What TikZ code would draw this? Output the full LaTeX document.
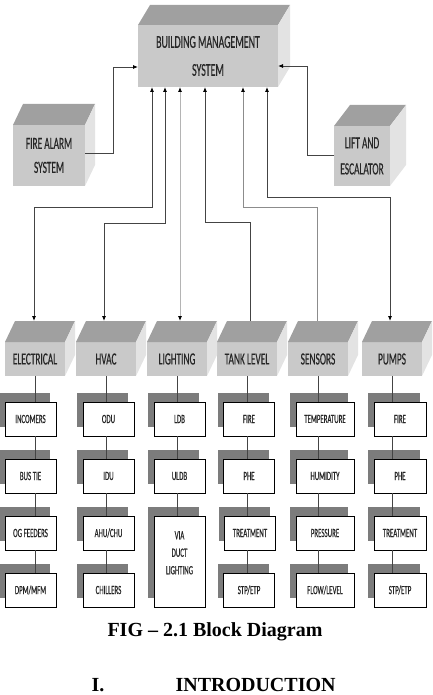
\documentclass[tikz,border=0pt]{standalone}
\usepackage{fontspec}
\setmainfont{Liberation Serif}
\newfontfamily\cf[FakeStretch=0.55,FakeBold=0.4]{Carlito}
\usetikzlibrary{arrows.meta,calc,shadows}

\definecolor{frontc}{HTML}{C9C9C9}
\definecolor{topc}{HTML}{A0A0A0}
\definecolor{sidec}{HTML}{E3E3E3}
\definecolor{shadowc}{HTML}{7C7C7C}
\definecolor{txtc}{HTML}{262626}
\definecolor{wire}{HTML}{444444}
\definecolor{wirelight}{HTML}{B4B4B4}
\definecolor{wiremid}{HTML}{8C8C8C}

% top and right faces of a block whose front face is node #1, depth (#2,#3)
\newcommand{\cubefaces}[3]{%
  \fill[topc] (#1.north west) -- ++(#2,-#3) -- ($(#1.north east)+(#2,-#3)$) -- (#1.north east) -- cycle;
  \fill[sidec] (#1.north east) -- ++(#2,-#3) -- ($(#1.south east)+(#2,-#3)$) -- (#1.south east) -- cycle;
}

\tikzset{
  cube/.style={fill=frontc, inner sep=0pt, outer sep=0pt, text=txtc, align=center},
  catbox/.style={cube, minimum width=60pt, minimum height=34pt, font=\cf\fontsize{17}{20}\selectfont},
  subbox/.style={draw=black, line width=0.7pt, fill=white, minimum width=51pt, minimum height=34pt,
    inner sep=0pt, outer sep=0pt, text=txtc, align=center, font=\cf\fontsize{12.5}{17.5}\selectfont,
    copy shadow={shadow xshift=-6pt, shadow yshift=9pt, fill=shadowc, draw=none}},
  tiphead/.tip={Latex[length=5pt,width=4pt,color=black]},
  link/.style={draw=wire, line width=0.8pt},
  linkup/.style={link, tiphead-},
  linkin/.style={link, -tiphead},
  linkboth/.style={link, tiphead-tiphead},
  stem/.style={draw=wire, line width=0.7pt},
}

\begin{document}
\begin{tikzpicture}[x=1pt,y=-1pt]
\useasboundingbox (0,0) rectangle (433,695);

% main and side blocks
\node[cube, minimum width=140pt, minimum height=62pt, font=\cf\fontsize{18}{28}\selectfont] (bms) at (208,56) {BUILDING MANAGEMENT\\SYSTEM};
\node[cube, minimum width=72pt, minimum height=61pt, font=\cf\fontsize{17}{24}\selectfont] (fire) at (49,155.5) {FIRE ALARM\\SYSTEM};
\node[cube, minimum width=56pt, minimum height=60pt, font=\cf\fontsize{17}{26}\selectfont] (lift) at (362,156) {LIFT AND\\ESCALATOR};
\cubefaces{bms}{12}{20}
\cubefaces{fire}{10}{21}
\cubefaces{lift}{16}{21}

% category blocks
\node[catbox] (elec)  at (35,359)  {ELECTRICAL};
\node[catbox] (hvac)  at (106,359) {HVAC};
\node[catbox] (light) at (177,359) {LIGHTING};
\node[catbox] (tank)  at (247,359) {TANK LEVEL};
\node[catbox] (sens)  at (318,359) {SENSORS};
\node[catbox] (pump)  at (392,359) {PUMPS};
\foreach \n in {elec,hvac,light,tank,sens,pump} {\cubefaces{\n}{10}{21}}

% sub-system boxes
\node[subbox] (e1) at (30.5,419) {INCOMERS};
\node[subbox] (e2) at (30.5,476) {BUS TIE};
\node[subbox] (e3) at (30.5,533) {OG FEEDERS};
\node[subbox] (e4) at (30.5,590) {DPM/MFM};

\node[subbox] (h1) at (108.5,419) {ODU};
\node[subbox] (h2) at (108.5,476) {IDU};
\node[subbox] (h3) at (108.5,533) {AHU/CHU};
\node[subbox] (h4) at (108.5,590) {CHILLERS};

\node[subbox] (l1) at (179.5,419) {LDB};
\node[subbox] (l2) at (179.5,476) {ULDB};
\node[subbox, minimum height=91pt] (l3) at (179.5,561.5) {VIA\\DUCT\\LIGHTING\\~};

\node[subbox] (t1) at (249,419) {FIRE};
\node[subbox] (t2) at (249,476) {PHE};
\node[subbox] (t3) at (250,533) {TREATMENT};
\node[subbox] (t4) at (249,590) {STP/ETP};

\node[subbox, minimum width=58pt] (s1) at (325,419) {TEMPERATURE};
\node[subbox, minimum width=58pt] (s2) at (325,476) {HUMIDITY};
\node[subbox, minimum width=58pt] (s3) at (325,533) {PRESSURE};
\node[subbox, minimum width=58pt] (s4) at (325,590) {FLOW/LEVEL};

\node[subbox, minimum width=52pt] (p1) at (400,419) {FIRE};
\node[subbox, minimum width=52pt] (p2) at (400,476) {PHE};
\node[subbox, minimum width=52pt] (p3) at (400,533) {TREATMENT};
\node[subbox, minimum width=52pt] (p4) at (400,590) {STP/ETP};

% stems from each category down through its boxes
\foreach \c/\a/\b/\d/\e in {elec/e1/e2/e3/e4, hvac/h1/h2/h3/h4, tank/t1/t2/t3/t4, sens/s1/s2/s3/s4, pump/p1/p2/p3/p4} {
  \draw[stem] (\c.south) -- (\c.south |- \a.north);
  \draw[stem] (\c.south |- \a.south) -- (\c.south |- \b.north);
  \draw[stem] (\c.south |- \b.south) -- (\c.south |- \d.north);
  \draw[stem] (\c.south |- \d.south) -- (\c.south |- \e.north);
}
\draw[stem] (light.south) -- (light.south |- l1.north);
\draw[stem] (light.south |- l1.south) -- (light.south |- l2.north);
\draw[stem] (light.south |- l2.south) -- (light.south |- l3.north);

% links into the management system
\draw[linkin] ([yshift=2pt]fire.east) -- ++(28,0) |- ([yshift=-11pt]bms.west);
\draw[linkin] ([yshift=1pt]lift.west) -- ++(-27,0) |- ([yshift=-10pt]bms.east);

\coordinate (elecT)  at ($(elec.north)+(-1,-21)$);
\coordinate (hvacT)  at ($(hvac.north)+(-2,-21)$);
\coordinate (lightT) at ($(light.north)+(3,-21)$);
\coordinate (tankT)  at ($(tank.north)+(3,-21)$);
\coordinate (sensT)  at ($(sens.north)+(-1,-21)$);
\coordinate (pumpT)  at ($(pump.north)+(-2,-21)$);

\draw[linkboth] ([xshift=-56pt]bms.south) |- (elecT |- 0,207) -- (elecT);
\draw[linkboth] ([xshift=-43pt]bms.south) |- (hvacT |- 0,223) -- (hvacT);
\draw[linkboth, draw=wirelight] (lightT |- bms.south) -- (lightT);
\draw[linkup] ([xshift=-3pt]bms.south) |- (tankT |- 0,222) -- (tankT);
\draw[linkup, draw=wiremid] ([xshift=35pt]bms.south) |- (sensT |- 0,207) -- (sensT);
\draw[linkboth] ([xshift=59pt]bms.south) |- (pumpT |- 0,197) -- (pumpT);

% caption and following heading
\node[anchor=base, font=\fontsize{20}{24}\selectfont\bfseries] (cap) at (215,636) {FIG – 2.1 Block Diagram};
\node[anchor=base west, font=\fontsize{20}{24}\selectfont\bfseries] (secnum) at (88,691) {I.};
\node[anchor=base west, font=\fontsize{20}{24}\selectfont\bfseries] (sectitle) at (172,691) {INTRODUCTION};
\end{tikzpicture}
\end{document}
